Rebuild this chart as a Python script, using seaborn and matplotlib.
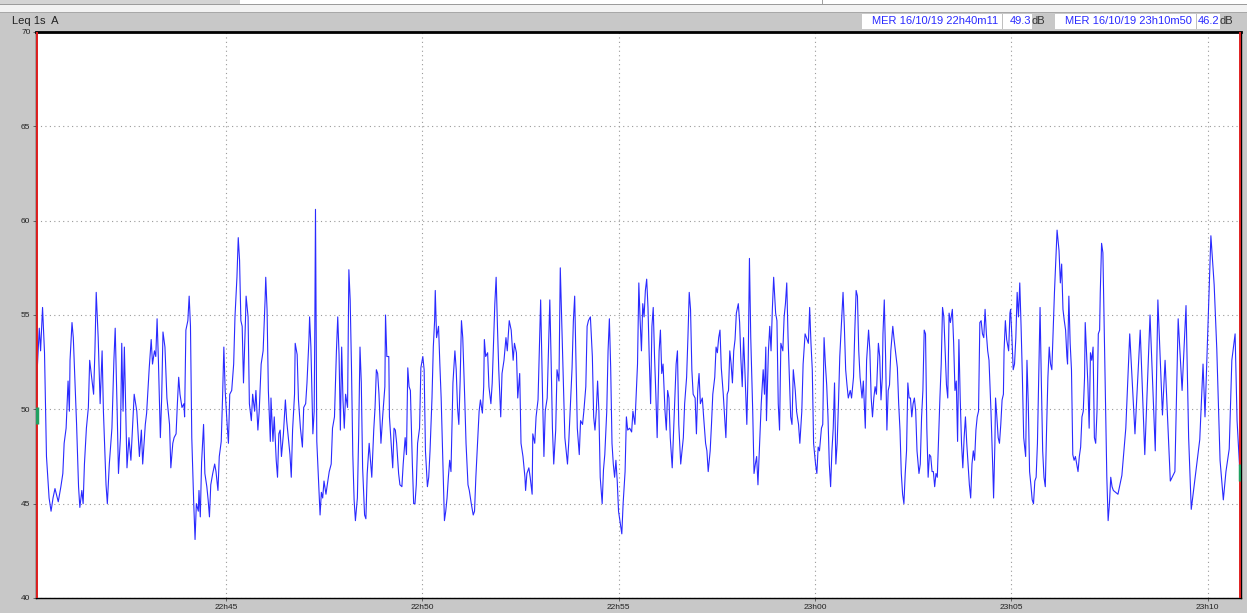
import matplotlib
matplotlib.use("Agg")
import pandas as pd
import matplotlib.pyplot as plt
from matplotlib.patches import Rectangle
import seaborn as sns

# Leq 1s (A) noise record, 16/10/19 22h40m11 -> 23h10m50

start = pd.Timestamp("2019-10-16 22:40:11")
end = pd.Timestamp("2019-10-16 23:10:50")

# seconds after start
seconds = [
    0, 1, 4, 6, 9, 12, 15, 19, 22, 25,
    28, 33, 37, 40, 42, 45, 48, 50, 51, 54,
    56, 58, 61, 64, 66, 69, 71, 73, 76, 79,
    81, 84, 87, 89, 91, 94, 97, 100, 102, 106,
    108, 111, 115, 118, 120, 123, 125, 128, 130, 132,
    134, 138, 141, 144, 149, 153, 157, 160, 162, 166,
    168, 172, 175, 177, 180, 182, 184, 186, 189, 191,
    193, 196, 199, 201, 203, 205, 208, 210, 213, 215,
    217, 219, 222, 225, 226, 228, 231, 233, 235, 237,
    240, 242, 244, 247, 248, 250, 252, 255, 257, 260,
    262, 264, 266, 269, 272, 274, 277, 279, 282, 284,
    286, 288, 291, 293, 295, 298, 301, 303, 306, 308,
    310, 312, 314, 316, 319, 320, 323, 325, 328, 330,
    333, 335, 338, 340, 343, 346, 349, 350, 352, 354,
    357, 358, 361, 363, 366, 368, 370, 372, 374, 377,
    380, 382, 384, 387, 389, 391, 394, 395, 398, 400,
    403, 406, 408, 411, 413, 416, 417, 419, 422, 424,
    425, 426, 427, 428, 431, 433, 435, 437, 439, 442,
    444, 447, 450, 452, 455, 458, 460, 462, 464, 466,
    468, 470, 472, 475, 477, 479, 481, 483, 485, 487,
    490, 492, 494, 496, 498, 501, 503, 505, 508, 510,
    512, 515, 517, 519, 521, 523, 526, 529, 532, 533,
    535, 538, 539, 542, 544, 546, 548, 550, 553, 555,
    558, 560, 563, 565, 567, 569, 571, 574, 576, 578,
    580, 582, 585, 587, 590, 592, 594, 597, 599, 601,
    604, 606, 608, 609, 611, 614, 616, 618, 621, 623,
    625, 627, 629, 631, 633, 636, 639, 641, 643, 645,
    647, 649, 651, 654, 656, 659, 661, 664, 667, 669,
    671, 673, 676, 678, 681, 683, 684, 686, 689, 691,
    694, 696, 698, 700, 702, 704, 706, 709, 711, 714,
    717, 719, 722, 725, 728, 730, 733, 735, 738, 740,
    743, 746, 747, 749, 752, 754, 757, 758, 761, 763,
    766, 768, 770, 773, 775, 777, 780, 782, 784, 786,
    788, 790, 793, 795, 798, 800, 802, 804, 807, 809,
    811, 813, 816, 818, 820, 822, 824, 826, 829, 831,
    834, 836, 839, 841, 843, 846, 849, 851, 853, 855,
    857, 859, 861, 864, 866, 868, 871, 873, 875, 877,
    879, 881, 883, 885, 887, 889, 892, 894, 896, 899,
    901, 903, 906, 909, 911, 914, 916, 918, 920, 922,
    924, 926, 928, 930, 932, 934, 936, 938, 940, 942,
    944, 946, 948, 951, 953, 955, 957, 960, 962, 964,
    966, 968, 971, 973, 975, 977, 979, 981, 984, 986,
    988, 990, 993, 995, 997, 999, 1001, 1003, 1006, 1008,
    1010, 1012, 1014, 1017, 1019, 1022, 1024, 1026, 1029, 1031,
    1033, 1036, 1038, 1040, 1042, 1044, 1046, 1049, 1051, 1053,
    1055, 1057, 1059, 1061, 1063, 1065, 1067, 1069, 1072, 1074,
    1076, 1078, 1080, 1082, 1085, 1087, 1089, 1091, 1094, 1096,
    1098, 1100, 1102, 1105, 1107, 1110, 1112, 1114, 1115, 1118,
    1120, 1122, 1124, 1126, 1129, 1131, 1133, 1135, 1137, 1140,
    1142, 1144, 1146, 1148, 1150, 1152, 1154, 1156, 1159, 1161,
    1164, 1166, 1169, 1171, 1174, 1176, 1179, 1181, 1183, 1185,
    1187, 1190, 1192, 1194, 1196, 1199, 1201, 1203, 1205, 1207,
    1209, 1211, 1213, 1215, 1217, 1219, 1221, 1223, 1225, 1227,
    1229, 1232, 1234, 1236, 1238, 1240, 1243, 1245, 1248, 1250,
    1252, 1254, 1256, 1258, 1261, 1263, 1266, 1268, 1271, 1273,
    1275, 1277, 1279, 1281, 1283, 1286, 1288, 1290, 1292, 1293,
    1295, 1297, 1299, 1301, 1303, 1305, 1308, 1310, 1312, 1315,
    1317, 1319, 1321, 1323, 1325, 1327, 1329, 1331, 1333, 1335,
    1337, 1339, 1341, 1343, 1345, 1348, 1350, 1352, 1354, 1356,
    1358, 1360, 1362, 1364, 1366, 1368, 1370, 1372, 1374, 1376,
    1378, 1380, 1382, 1384, 1386, 1388, 1390, 1392, 1394, 1396,
    1399, 1401, 1403, 1405, 1407, 1409, 1411, 1413, 1415, 1417,
    1419, 1421, 1423, 1425, 1427, 1429, 1431, 1433, 1435, 1437,
    1439, 1441, 1443, 1445, 1447, 1449, 1451, 1453, 1455, 1458,
    1461, 1462, 1464, 1465, 1467, 1469, 1471, 1473, 1475, 1477,
    1478, 1480, 1482, 1485, 1487, 1488, 1490, 1492, 1494, 1496,
    1498, 1500, 1502, 1504, 1506, 1508, 1511, 1513, 1515, 1517,
    1519, 1521, 1523, 1525, 1527, 1529, 1531, 1533, 1535, 1537,
    1539, 1541, 1543, 1545, 1547, 1549, 1551, 1553, 1555, 1557,
    1559, 1562, 1564, 1566, 1568, 1570, 1572, 1574, 1575, 1577,
    1579, 1581, 1583, 1585, 1587, 1589, 1591, 1593, 1595, 1597,
    1599, 1601, 1602, 1604, 1606, 1608, 1610, 1612, 1614, 1616,
    1618, 1620, 1622, 1624, 1625, 1627, 1629, 1631, 1633, 1635,
    1637, 1639, 1641, 1643, 1645, 1652, 1658, 1664, 1670, 1678,
    1686, 1693, 1701, 1709, 1713, 1720, 1724, 1732, 1739, 1744,
    1750, 1756, 1760, 1764, 1771, 1777, 1782, 1785, 1790, 1794,
    1799, 1803, 1808, 1813, 1817, 1822, 1826, 1831, 1834, 1839,
]

# dB(A)
leq = [
    49.3, 52.2, 54.3, 53.1, 55.4, 53.0, 47.5, 45.3, 44.6, 45.3,
    45.8, 45.1, 45.9, 46.6, 48.2, 49.0, 51.5, 49.9, 52.6, 54.6,
    53.8, 51.9, 49.2, 45.9, 44.8, 45.7, 45.0, 47.1, 49.0, 50.1,
    52.6, 51.7, 50.8, 53.1, 56.2, 53.8, 50.3, 53.1, 49.9, 46.0,
    45.0, 47.1, 49.0, 52.6, 54.3, 49.9, 46.6, 48.5, 53.5, 49.9,
    53.3, 46.9, 48.5, 47.3, 50.8, 49.9, 47.5, 48.9, 47.1, 49.2,
    49.8, 52.2, 53.7, 52.4, 53.1, 52.8, 54.8, 52.6, 48.5, 50.6,
    54.1, 53.3, 50.6, 49.9, 49.2, 46.9, 48.2, 48.5, 48.7, 50.3,
    51.7, 50.8, 50.1, 50.3, 49.6, 54.2, 54.7, 56.0, 54.4, 48.5,
    45.0, 43.1, 45.0, 44.6, 45.7, 44.3, 47.2, 49.2, 46.6, 45.9,
    45.2, 44.3, 46.0, 46.6, 47.1, 46.7, 45.7, 47.5, 48.3, 50.6,
    53.3, 51.0, 49.2, 48.2, 50.8, 51.0, 52.4, 54.9, 57.0, 59.1,
    57.9, 54.7, 54.4, 51.4, 54.7, 56.0, 54.9, 50.3, 49.4, 50.8,
    49.9, 51.0, 48.9, 49.9, 52.4, 53.1, 55.8, 57.0, 55.3, 51.0,
    48.3, 50.6, 48.3, 49.6, 47.3, 46.4, 48.7, 48.9, 47.5, 48.7,
    50.5, 49.4, 48.7, 47.6, 46.4, 48.9, 50.8, 53.5, 52.9, 50.5,
    49.0, 48.0, 50.1, 50.3, 51.4, 53.7, 54.9, 53.3, 48.7, 49.9,
    54.4, 60.6, 54.2, 48.3, 45.9, 44.4, 45.6, 45.3, 46.2, 45.5,
    46.0, 46.7, 47.1, 49.0, 49.6, 53.1, 54.9, 52.9, 48.9, 53.3,
    50.5, 49.0, 50.8, 50.1, 57.4, 55.8, 52.2, 47.6, 45.2, 44.1,
    45.3, 48.7, 53.3, 51.4, 46.9, 44.4, 44.2, 46.6, 48.2, 47.3,
    46.4, 48.9, 50.1, 52.1, 51.9, 50.8, 48.2, 49.8, 51.2, 55.0,
    52.8, 52.8, 49.6, 48.0, 46.9, 49.0, 48.9, 48.2, 46.6, 46.0,
    45.9, 47.1, 48.5, 47.6, 52.2, 51.2, 51.0, 47.1, 45.0, 45.0,
    46.0, 48.2, 49.0, 52.2, 52.8, 52.1, 47.8, 45.9, 46.4, 47.8,
    50.6, 53.3, 54.7, 56.3, 53.8, 54.4, 52.4, 50.6, 46.8, 44.1,
    44.6, 45.3, 46.4, 47.3, 46.7, 51.4, 53.1, 52.1, 50.1, 49.2,
    51.5, 54.7, 53.8, 50.6, 48.2, 46.0, 45.7, 45.0, 44.4, 44.6,
    46.4, 47.8, 49.9, 50.5, 49.8, 51.2, 53.7, 52.8, 53.0, 51.2,
    50.3, 51.4, 53.5, 55.6, 57.0, 54.4, 52.1, 49.6, 51.9, 52.6,
    53.8, 53.1, 54.7, 54.2, 52.6, 53.5, 53.0, 50.6, 51.9, 48.2,
    47.5, 46.4, 45.7, 46.6, 46.9, 46.4, 45.5, 48.7, 48.2, 49.6,
    50.5, 53.1, 55.8, 50.6, 47.5, 49.9, 50.6, 53.3, 55.8, 52.6,
    49.0, 47.1, 48.9, 52.1, 51.5, 57.5, 54.9, 52.2, 48.5, 47.8,
    47.1, 48.3, 50.6, 52.2, 54.7, 56.0, 52.4, 49.0, 47.6, 49.4,
    49.2, 49.9, 51.2, 54.4, 54.7, 54.9, 52.8, 49.6, 48.9, 49.9,
    51.5, 49.9, 46.4, 45.0, 46.8, 47.6, 49.9, 53.1, 54.8, 52.2,
    48.2, 47.1, 46.4, 47.3, 46.2, 44.6, 43.9, 43.4, 45.0, 46.7,
    49.6, 48.9, 49.0, 48.8, 49.9, 49.2, 50.8, 52.4, 56.7, 54.7,
    53.1, 55.6, 54.9, 56.3, 56.9, 55.4, 52.6, 50.3, 54.4, 55.4,
    52.8, 50.8, 48.5, 53.1, 54.2, 51.9, 52.4, 49.9, 48.9, 51.0,
    50.6, 48.5, 46.9, 48.7, 50.6, 52.4, 53.1, 49.2, 47.1, 47.8,
    48.5, 50.3, 51.7, 53.8, 56.2, 55.3, 52.1, 50.8, 50.6, 48.7,
    51.0, 51.9, 50.3, 50.6, 49.6, 48.2, 47.8, 46.7, 47.8, 49.2,
    50.8, 51.7, 53.3, 53.0, 53.8, 54.2, 52.2, 50.8, 49.6, 48.5,
    50.8, 51.0, 53.1, 52.4, 51.4, 53.1, 53.7, 55.1, 55.6, 54.6,
    52.6, 51.2, 53.8, 52.1, 49.2, 52.2, 58.0, 53.8, 49.9, 46.6,
    47.1, 47.5, 46.0, 48.5, 50.3, 52.1, 50.8, 53.3, 49.4, 53.1,
    54.4, 53.1, 55.3, 57.0, 55.1, 54.7, 50.3, 48.9, 53.5, 53.1,
    54.9, 55.6, 56.7, 53.8, 51.7, 49.6, 49.2, 52.1, 51.0, 49.9,
    49.2, 48.2, 49.9, 52.4, 54.0, 53.8, 53.5, 55.4, 53.5, 52.1,
    48.2, 47.1, 46.6, 48.0, 47.8, 49.0, 49.2, 53.8, 52.4, 51.3,
    49.6, 47.1, 45.9, 47.8, 49.0, 51.4, 47.1, 48.2, 50.3, 52.8,
    54.2, 56.2, 54.4, 52.1, 51.3, 50.6, 51.0, 50.6, 51.7, 54.2,
    56.3, 56.0, 53.1, 51.7, 50.6, 51.5, 49.0, 52.6, 54.2, 53.1,
    50.6, 49.6, 50.6, 51.2, 50.8, 53.5, 52.8, 50.5, 51.7, 54.0,
    55.8, 52.8, 48.9, 51.0, 51.3, 53.1, 54.4, 53.7, 53.1, 52.2,
    50.3, 48.9, 46.6, 45.5, 45.0, 46.6, 47.8, 51.4, 50.6, 50.6,
    49.6, 50.3, 50.6, 49.9, 47.8, 46.6, 47.1, 49.6, 51.0, 54.2,
    54.0, 49.0, 46.4, 47.6, 47.5, 46.7, 46.7, 45.9, 46.6, 46.4,
    48.5, 50.6, 52.4, 55.4, 54.9, 53.1, 51.3, 50.6, 55.1, 54.6,
    55.3, 53.5, 51.0, 51.5, 48.3, 53.7, 50.6, 48.2, 46.9, 48.5,
    49.6, 48.2, 47.1, 46.0, 45.3, 47.1, 47.8, 47.3, 48.9, 49.6,
    49.9, 54.6, 54.7, 54.0, 53.8, 55.3, 54.0, 53.1, 52.6, 49.9,
    46.6, 45.3, 48.2, 50.6, 49.6, 48.5, 48.2, 49.2, 50.5, 50.8,
    53.1, 54.7, 53.7, 53.1, 55.1, 55.3, 53.8, 52.1, 52.4, 53.8,
    56.2, 54.9, 56.7, 54.4, 51.7, 48.5, 47.5, 52.6, 50.3, 46.7,
    46.0, 45.2, 45.0, 46.2, 46.4, 48.2, 51.7, 55.4, 51.4, 47.8,
    46.4, 45.9, 49.0, 51.7, 53.3, 52.4, 52.1, 54.2, 56.2, 57.9,
    59.5, 58.4, 56.7, 57.7, 55.3, 54.7, 54.2, 52.8, 52.4, 56.0,
    53.5, 52.1, 47.6, 47.3, 47.5, 47.1, 46.7, 47.5, 48.0, 49.6,
    49.9, 51.7, 54.6, 53.0, 51.4, 49.0, 53.0, 52.6, 53.3, 48.5,
    48.2, 49.9, 54.0, 54.2, 56.2, 58.8, 58.3, 54.4, 50.6, 46.4,
    44.1, 45.0, 46.4, 45.9, 45.7, 45.5, 46.5, 49.0, 54.0, 48.7,
    54.2, 47.6, 55.0, 47.8, 55.8, 49.7, 52.6, 46.2, 46.7, 54.8,
    51.0, 55.5, 48.5, 44.7, 46.7, 48.4, 52.4, 49.6, 55.0, 59.2,
    56.6, 53.2, 47.3, 45.2, 46.7, 47.9, 52.6, 54.0, 49.4, 46.2,
]

tick_times = ["2019-10-16 22:45", "2019-10-16 22:50", "2019-10-16 22:55",
              "2019-10-16 23:00", "2019-10-16 23:05", "2019-10-16 23:10"]
tick_labels = ["22h45", "22h50", "22h55", "23h00", "23h05", "23h10"]
y_ticks = [40, 45, 50, 55, 60, 65, 70]

channel_label = "Leq 1s  A"
cursor_labels = ["MER 16/10/19 22h40m11", "MER 16/10/19 23h10m50"]
cursor_values = ["49.3", "46.2"]

df = pd.DataFrame({"time": start + pd.to_timedelta(seconds, unit="s"), "leq": leq})

W, H = 1247, 613
GREY = "#c8c8c8"
BLUE = "#2a2aff"


def fx(x):
    return x / W


def fy(y):
    return 1 - y / H


fig = plt.figure(figsize=(W / 100, H / 100), dpi=100, facecolor=GREY)


def box(x0, y0, x1, y1, color):
    fig.patches.append(Rectangle((fx(x0), fy(y1)), fx(x1) - fx(x0), fy(y0) - fy(y1),
                                 transform=fig.transFigure, facecolor=color,
                                 edgecolor="none", zorder=0))


# window chrome above the chart
box(0, 0, 240, 4, "#d4d4d4")
box(240, 0, 1247, 4, "white")
box(822, 0, 823, 4, "#a0a0a0")
box(0, 4, 1247, 5, "#9c9c9c")
box(0, 5, 1247, 12, "#f2f2f2")
box(0, 12, 1247, 13, "#a8a8a8")

fig.text(fx(12), fy(21), channel_label, fontsize=8, family="Liberation Sans",
         va="center", ha="left", color="#222222")

# cursor readouts
for i, (lab, val) in enumerate(zip(cursor_labels, cursor_values)):
    x0 = [862, 1055][i]
    x1 = [1032, 1220][i]
    sep = [1002, 1196][i]
    box(x0, 14, x1, 29, "white")
    box(sep, 14, sep + 1, 29, "#c0c0c0")
    fig.text(fx(x0 + 10), fy(21.5), lab, fontsize=8, family="Liberation Sans",
             va="center", ha="left", color=BLUE)
    fig.text(fx(x1 - 1), fy(21.5), val, fontsize=8, family="Liberation Sans",
             va="center", ha="right", color=BLUE)
    fig.text(fx(x1), fy(21.5), "dB", fontsize=8, family="Liberation Sans",
             va="center", ha="left", color="#333333")

ax = fig.add_axes([fx(36), fy(598), fx(1241) - fx(36), fy(32) - fy(598)])
ax.set_facecolor("white")

sns.lineplot(data=df, x="time", y="leq", ax=ax, color=BLUE, linewidth=0.8,
             estimator=None, legend=False)

ax.set_xlim(start - pd.Timedelta(seconds=1), end + pd.Timedelta(seconds=1))
ax.set_ylim(40, 70)
ax.set_yticks(y_ticks)
ax.set_yticklabels([str(v) for v in y_ticks], fontsize=6, family="Liberation Sans")
ax.set_xticks(pd.to_datetime(tick_times))
ax.set_xticklabels(tick_labels, fontsize=6, family="Liberation Sans")
ax.tick_params(axis="both", length=2, width=0.6, color="#555555", pad=2, labelcolor="#222222")
ax.set_xlabel("")
ax.set_ylabel("")

ax.grid(True, linestyle=(0, (1, 3)), color="#9a9a9a", linewidth=0.8)
ax.set_axisbelow(True)

for side in ["top", "bottom", "left", "right"]:
    ax.spines[side].set_color("black")
    ax.spines[side].set_linewidth(1.0)
ax.spines["top"].set_linewidth(2)

# cursor lines at both ends of the record
ax.axvline(start, color="#e02020", linewidth=1.4, zorder=5)
ax.axvline(end, color="#e02020", linewidth=1.4, zorder=5)
ax.vlines([start], 49.2, 50.1, color="#20a060", linewidth=2.5, zorder=6)
ax.vlines([end], 46.2, 47.1, color="#20a060", linewidth=2.5, zorder=6)

fig.savefig("out.png", dpi=100, facecolor=GREY)
